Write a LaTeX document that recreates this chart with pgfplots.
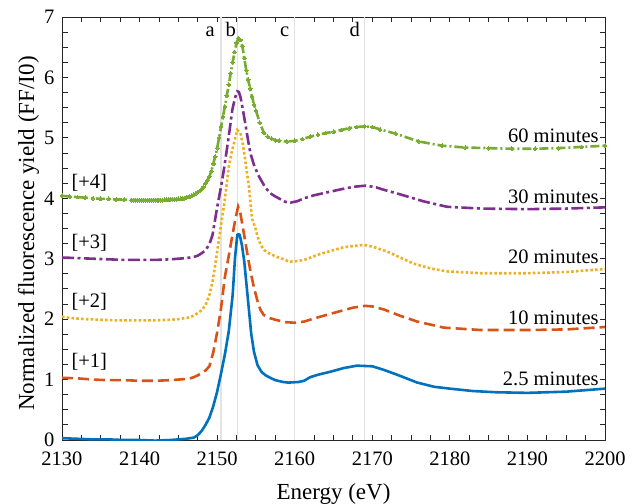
\documentclass[border=0pt]{standalone}
\usepackage{fontspec}
\setmainfont{Liberation Serif}
\usepackage{pgfplots}
\pgfplotsset{compat=1.18}
\definecolor{mblue}{rgb}{0,0.447,0.741}
\definecolor{morange}{rgb}{0.85,0.325,0.098}
\definecolor{myellow}{rgb}{0.929,0.694,0.125}
\definecolor{mpurple}{rgb}{0.494,0.184,0.556}
\definecolor{mgreen}{rgb}{0.466,0.674,0.188}
\definecolor{axgray}{rgb}{0.15,0.15,0.15}
\definecolor{vline}{rgb}{0.89,0.89,0.89}
\begin{document}
\begin{tikzpicture}
\begin{axis}[
  scale only axis, width=543pt, height=423pt,
  xmin=2130, xmax=2200, ymin=0, ymax=7,
  xtick={2130,2140,2150,2160,2170,2180,2190,2200},
  xticklabels={\textrm{2130},\textrm{2140},\textrm{2150},\textrm{2160},\textrm{2170},\textrm{2180},\textrm{2190},\textrm{2200}},
  ytick={0,1,2,3,4,5,6,7},
  yticklabels={\textrm{0},\textrm{1},\textrm{2},\textrm{3},\textrm{4},\textrm{5},\textrm{6},\textrm{7}},
  minor x tick num=3, minor y tick num=3,
  tick align=inside, major tick length=5.5pt, minor tick length=5.5pt,
  axis line style={line width=0.9pt, color=axgray},
  every tick/.style={line width=0.9pt, color=axgray},
  tick label style={font=\fontsize{20.5}{24}\selectfont, color=black},
  xticklabel shift=8pt, yticklabel shift=4pt,
  xlabel={Energy (eV)},
  ylabel={Normalized fluorescence yield (FF/I0)},
  label style={font=\fontsize{23}{27}\selectfont},
  xlabel style={at={(axis description cs:0.5,-0.1395)}, anchor=base},
  ylabel style={at={(axis description cs:-0.0515,0.488)}, anchor=base},
  clip=true,
]
% reference lines
\addplot[vline, line width=1.3pt, forget plot] coordinates {(2150.5,0) (2150.5,7)};
\addplot[vline, line width=1.3pt, forget plot] coordinates {(2152.6,0) (2152.6,7)};
\addplot[vline, line width=1.3pt, forget plot] coordinates {(2160.0,0) (2160.0,7)};
\addplot[vline, line width=1.3pt, forget plot] coordinates {(2169.0,0) (2169.0,7)};

% 2.5 minutes
\addplot[mblue, line width=2.6pt, line join=round] coordinates {
(2130,0.03) (2132,0.02) (2134,0.01) (2136,0.01) (2138,0.00) (2140,0.00) (2142,-0.01) (2144,0.00) (2145,0.01) (2146,0.02) (2146.5,0.03) (2147,0.04) (2147.5,0.08) (2148,0.15) (2148.5,0.25) (2149,0.37) (2149.5,0.56) (2150,0.80) (2150.5,1.10) (2151,1.42) (2151.5,1.80) (2152,2.40) (2152.3,3.01) (2152.6,3.40) (2152.9,3.40) (2153.2,3.22) (2153.5,2.95) (2153.8,2.55) (2154.1,2.15) (2154.4,1.75) (2154.75,1.46) (2155.2,1.24) (2155.7,1.13) (2156.25,1.07) (2157,1.02) (2157.5,0.99) (2158.5,0.96) (2159.2,0.95) (2160.5,0.96) (2161.2,0.98) (2162,1.04) (2163,1.08) (2164.6,1.13) (2166.3,1.19) (2168,1.23) (2170,1.22) (2171.5,1.16) (2173.2,1.08) (2175.8,0.95) (2178,0.88) (2180,0.85) (2183,0.81) (2186,0.79) (2190,0.78) (2195,0.80) (2200,0.85)
};
% 10 minutes
\addplot[morange, line width=2.6pt, dash pattern=on 11pt off 5pt] coordinates {
(2130,1.03) (2132,1.02) (2134,1.00) (2136,0.99) (2138,0.99) (2140,0.98) (2142,0.98) (2144,0.99) (2145,1.00) (2146,1.01) (2146.5,1.02) (2147,1.04) (2147.5,1.07) (2148,1.11) (2148.5,1.15) (2149,1.22) (2149.5,1.45) (2150,1.78) (2150.5,2.18) (2151,2.70) (2151.5,3.05) (2151.9,3.34) (2152.3,3.62) (2152.7,3.86) (2153.0,3.75) (2153.5,3.38) (2154,3.00) (2154.3,2.79) (2154.75,2.52) (2155.2,2.30) (2155.6,2.15) (2156,2.07) (2156.7,2.02) (2157.5,1.99) (2158.8,1.95) (2160.1,1.94) (2161.2,1.96) (2163,2.03) (2165.5,2.12) (2167.5,2.19) (2169.1,2.22) (2170,2.21) (2171.5,2.16) (2173.5,2.06) (2175.8,1.96) (2179.2,1.86) (2184,1.82) (2190,1.82) (2195,1.83) (2200,1.87)
};
% 20 minutes
\addplot[myellow, line width=2.6pt, dash pattern=on 2.6pt off 2.2pt] coordinates {
(2130,2.04) (2131,2.02) (2133,2.00) (2135,1.99) (2137,1.98) (2140,1.98) (2142,1.98) (2144,1.99) (2145,2.00) (2146,2.02) (2146.5,2.03) (2147,2.06) (2147.5,2.10) (2148,2.15) (2148.5,2.23) (2149,2.40) (2149.4,2.62) (2149.7,2.85) (2150,3.12) (2150.5,3.56) (2150.9,3.90) (2151.2,4.20) (2151.5,4.52) (2151.85,4.75) (2152.2,4.93) (2152.6,5.13) (2153.0,5.08) (2153.3,4.90) (2153.5,4.74) (2153.8,4.46) (2154.1,4.19) (2154.5,3.66) (2154.9,3.52) (2155.2,3.37) (2155.6,3.23) (2156.1,3.14) (2156.7,3.09) (2157.5,3.04) (2158.6,2.99) (2159.3,2.95) (2160.2,2.96) (2161.2,2.98) (2163.3,3.08) (2166.3,3.19) (2168.9,3.23) (2170,3.20) (2171.9,3.12) (2175.3,2.92) (2177.5,2.84) (2179.6,2.79) (2184,2.76) (2190,2.76) (2195,2.78) (2200,2.83)
};
% 30 minutes
\addplot[mpurple, line width=2.6pt, dash pattern=on 12pt off 3.5pt on 3pt off 3.5pt] coordinates {
(2130,3.02) (2132,3.01) (2134,3.00) (2136,2.99) (2138,2.98) (2140,2.98) (2142,2.98) (2144,2.99) (2145,3.00) (2146,3.01) (2147,3.03) (2147.5,3.05) (2148,3.09) (2148.5,3.14) (2149,3.24) (2149.4,3.39) (2149.7,3.62) (2150,3.85) (2150.5,4.19) (2150.9,4.50) (2151.3,4.85) (2151.65,5.17) (2151.95,5.46) (2152.3,5.66) (2152.6,5.77) (2152.8,5.76) (2153.0,5.68) (2153.3,5.48) (2153.7,5.18) (2154.0,4.95) (2154.3,4.74) (2154.8,4.53) (2155.4,4.36) (2156.25,4.17) (2157,4.07) (2157.5,4.03) (2158.8,3.94) (2159.5,3.93) (2160.3,3.95) (2161.2,4.00) (2162.5,4.05) (2164.6,4.11) (2166,4.15) (2167.6,4.19) (2169.2,4.21) (2170.5,4.18) (2171.5,4.14) (2173.2,4.08) (2176.6,3.95) (2179.6,3.86) (2184,3.83) (2190,3.82) (2195,3.83) (2200,3.85)
};
% 60 minutes
\addplot[mgreen, line width=2.6pt, dash pattern=on 9pt off 3pt on 2pt off 3pt, mark=*, mark size=1.9pt, mark options={solid, fill=mgreen, draw=mgreen, line width=0pt}] coordinates {
(2130,4.04) (2131,4.03) (2132,4.02) (2133,4.01) (2134,4.00) (2135,3.99) (2136,3.99) (2137,3.98) (2138,3.98)
(2139,3.97) (2139.25,3.97) (2139.5,3.97) (2139.75,3.97) (2140,3.97) (2140.25,3.97) (2140.5,3.97) (2140.75,3.97) (2141,3.97) (2141.25,3.97) (2141.5,3.97) (2141.75,3.97) (2142,3.97) (2142.25,3.97) (2142.5,3.97) (2142.75,3.97) (2143,3.97) (2143.25,3.975) (2143.5,3.975) (2143.75,3.98) (2144,3.98) (2144.25,3.98) (2144.5,3.98) (2144.75,3.985) (2145,3.99) (2145.25,3.99) (2145.5,4.00) (2145.75,4.00) (2146,4.01) (2146.25,4.02) (2146.5,4.03) (2146.75,4.04) (2147,4.06) (2147.25,4.08) (2147.5,4.10) (2147.75,4.12) (2148,4.15) (2148.25,4.19) (2148.5,4.25) (2148.75,4.30) (2149,4.36) (2149.25,4.45) (2149.5,4.57) (2149.75,4.69) (2150,4.83) (2150.25,5.00) (2150.5,5.18) (2150.75,5.35) (2151,5.52) (2151.25,5.70) (2151.5,5.88) (2151.75,6.07) (2152,6.25) (2152.25,6.42) (2152.5,6.57) (2152.75,6.65) (2153,6.62) (2153.25,6.52) (2153.5,6.32) (2153.75,6.12) (2154,5.96) (2154.25,5.82) (2154.5,5.68) (2154.75,5.55) (2155,5.45) (2155.5,5.25) (2156,5.09) (2156.5,5.02) (2157,4.99) (2157.5,4.96) (2158,4.95) (2159,4.94) (2160,4.95) (2161,4.98) (2162,5.02) (2163,5.05) (2164,5.08) (2165,5.10) (2166,5.13) (2167,5.16) (2168,5.18) (2169,5.19) (2170,5.18) (2171,5.14) (2173,5.07) (2176,4.94) (2179,4.87) (2182,4.84) (2185,4.83) (2188,4.82) (2191,4.82) (2194,4.83) (2197,4.85) (2200,4.87)
};

% annotations
\begin{scope}[font=\fontsize{20.5}{24}\selectfont]
\node[anchor=base, inner sep=0pt] at (axis cs:2149.1,6.68) {a};
\node[anchor=base, inner sep=0pt] at (axis cs:2151.75,6.68) {b};
\node[anchor=base, inner sep=0pt] at (axis cs:2158.7,6.68) {c};
\node[anchor=base, inner sep=0pt] at (axis cs:2167.75,6.68) {d};
\node[anchor=west, inner sep=0pt] at (axis cs:2131.2,1.29) {[+1]};
\node[anchor=west, inner sep=0pt] at (axis cs:2131.2,2.28) {[+2]};
\node[anchor=west, inner sep=0pt] at (axis cs:2131.2,3.27) {[+3]};
\node[anchor=west, inner sep=0pt] at (axis cs:2131.2,4.26) {[+4]};
\node[anchor=east, inner sep=0pt] at (axis cs:2199.2,1.02) {2.5 minutes};
\node[anchor=east, inner sep=0pt] at (axis cs:2199.2,2.03) {10 minutes};
\node[anchor=east, inner sep=0pt] at (axis cs:2199.2,3.03) {20 minutes};
\node[anchor=east, inner sep=0pt] at (axis cs:2199.2,4.02) {30 minutes};
\node[anchor=east, inner sep=0pt] at (axis cs:2199.2,5.03) {60 minutes};
\end{scope}
\end{axis}
\pgfresetboundingbox
\path[use as bounding box] ([shift={(-62pt,-63pt)}]current axis.south west) rectangle ([shift={(33pt,17pt)}]current axis.north east);
\end{tikzpicture}
\end{document}
